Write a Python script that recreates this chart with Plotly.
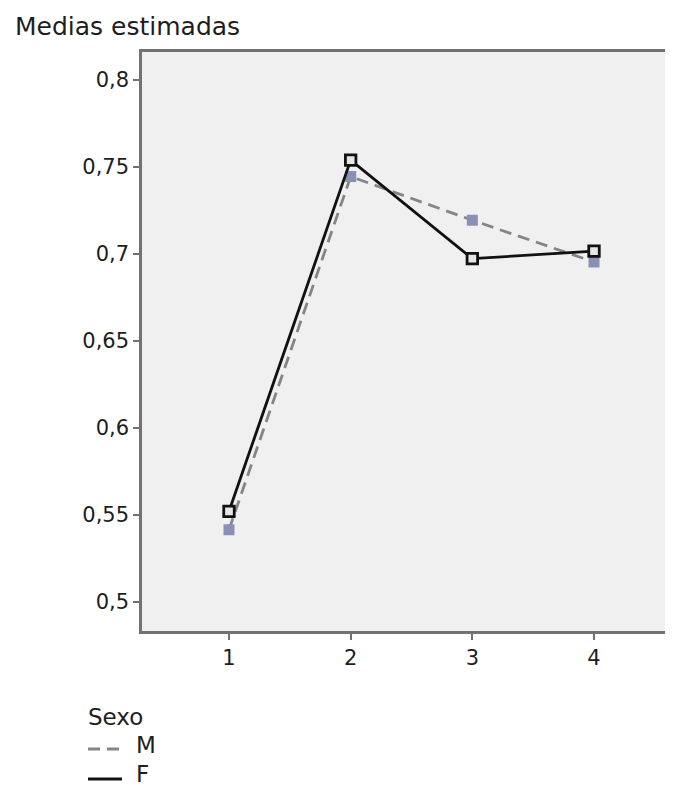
import plotly.graph_objects as go

categories = [1, 2, 3, 4]
series_M = [0.5415, 0.7445, 0.7194, 0.6954]
series_F = [0.5521, 0.7540, 0.6973, 0.7017]
y_ticks = [0.5, 0.55, 0.6, 0.65, 0.7, 0.75, 0.8]
y_tick_labels = ["0,5", "0,55", "0,6", "0,65", "0,7", "0,75", "0,8"]
series_names = ["M", "F"]
legend_title = "Sexo"

FONT = "DejaVu Sans"
TXT = "#1e1e1e"

# page body adds an 8px offset; compensate so the picture lines up
OFF = 8
W, H = 673, 793
L, T = 142 - OFF, 52 - OFF
PR, PB = 672 - OFF, 631 - OFF          # plot right / bottom in figure px
R, B = W - PR, H - PB
PW, PH = PR - L, PB - T


def px(xp):
    return (xp - OFF - L) / PW


def py(yp):
    return (PB - (yp - OFF)) / PH


M_STYLE = dict(color="#858585", width=2.8, dash="12px,7px")
F_STYLE = dict(color="#111111", width=2.8)

fig = go.Figure()

fig.add_trace(go.Scatter(
    x=categories, y=series_M, mode="lines+markers", showlegend=False,
    name=series_names[0], line=M_STYLE,
    marker=dict(symbol="square", size=11, color="#8a8fb6",
                line=dict(color="#8a8fb6", width=0)),
))
fig.add_trace(go.Scatter(
    x=categories, y=series_F, mode="lines+markers", showlegend=False,
    name=series_names[1], line=F_STYLE,
    marker=dict(symbol="square", size=10.5, color="#e6e6e6",
                line=dict(color="#111111", width=2.8)),
))

shapes = [
    dict(type="line", xref="paper", yref="paper",
         x0=px(88), x1=px(121), y0=py(749), y1=py(749), line=M_STYLE),
    dict(type="line", xref="paper", yref="paper",
         x0=px(88), x1=px(122), y0=py(779), y1=py(779), line=F_STYLE),
]

annotations = [
    dict(text="Medias estimadas", xref="paper", yref="paper",
         x=px(13), y=py(27), xanchor="left", yanchor="middle",
         showarrow=False, font=dict(family=FONT, size=25, color=TXT)),
    dict(text=legend_title, xref="paper", yref="paper",
         x=px(86), y=py(717), xanchor="left", yanchor="middle",
         showarrow=False, font=dict(family=FONT, size=23, color=TXT)),
    dict(text=series_names[0], xref="paper", yref="paper",
         x=px(134), y=py(745), xanchor="left", yanchor="middle",
         showarrow=False, font=dict(family=FONT, size=23, color=TXT)),
    dict(text=series_names[1], xref="paper", yref="paper",
         x=px(134), y=py(774), xanchor="left", yanchor="middle",
         showarrow=False, font=dict(family=FONT, size=23, color=TXT)),
]

fig.update_layout(
    width=W, height=H,
    margin=dict(l=L, r=R, t=T, b=B, autoexpand=False),
    paper_bgcolor="white",
    plot_bgcolor="#f0f0f0",
    font=dict(family=FONT, size=21, color=TXT),
    showlegend=False,
    shapes=shapes,
    annotations=annotations,
    xaxis=dict(
        range=[0.285, 4.641], tickmode="array", tickvals=categories,
        ticktext=[str(c) for c in categories],
        showgrid=False, zeroline=False, automargin=False,
        showline=True, linecolor="#727272", linewidth=2.5, mirror=True,
        ticks="outside", ticklen=6, tickwidth=2, tickcolor="#727272",
        tickfont=dict(family=FONT, size=21, color=TXT),
    ),
    yaxis=dict(
        range=[0.4833, 0.8161], tickmode="array", tickvals=y_ticks,
        ticktext=y_tick_labels,
        showgrid=False, zeroline=False, automargin=False,
        showline=True, linecolor="#727272", linewidth=2.5, mirror=True,
        ticks="outside", ticklen=6, tickwidth=2, tickcolor="#727272",
        tickfont=dict(family=FONT, size=21, color=TXT),
    ),
)

fig.write_html("out.html")
